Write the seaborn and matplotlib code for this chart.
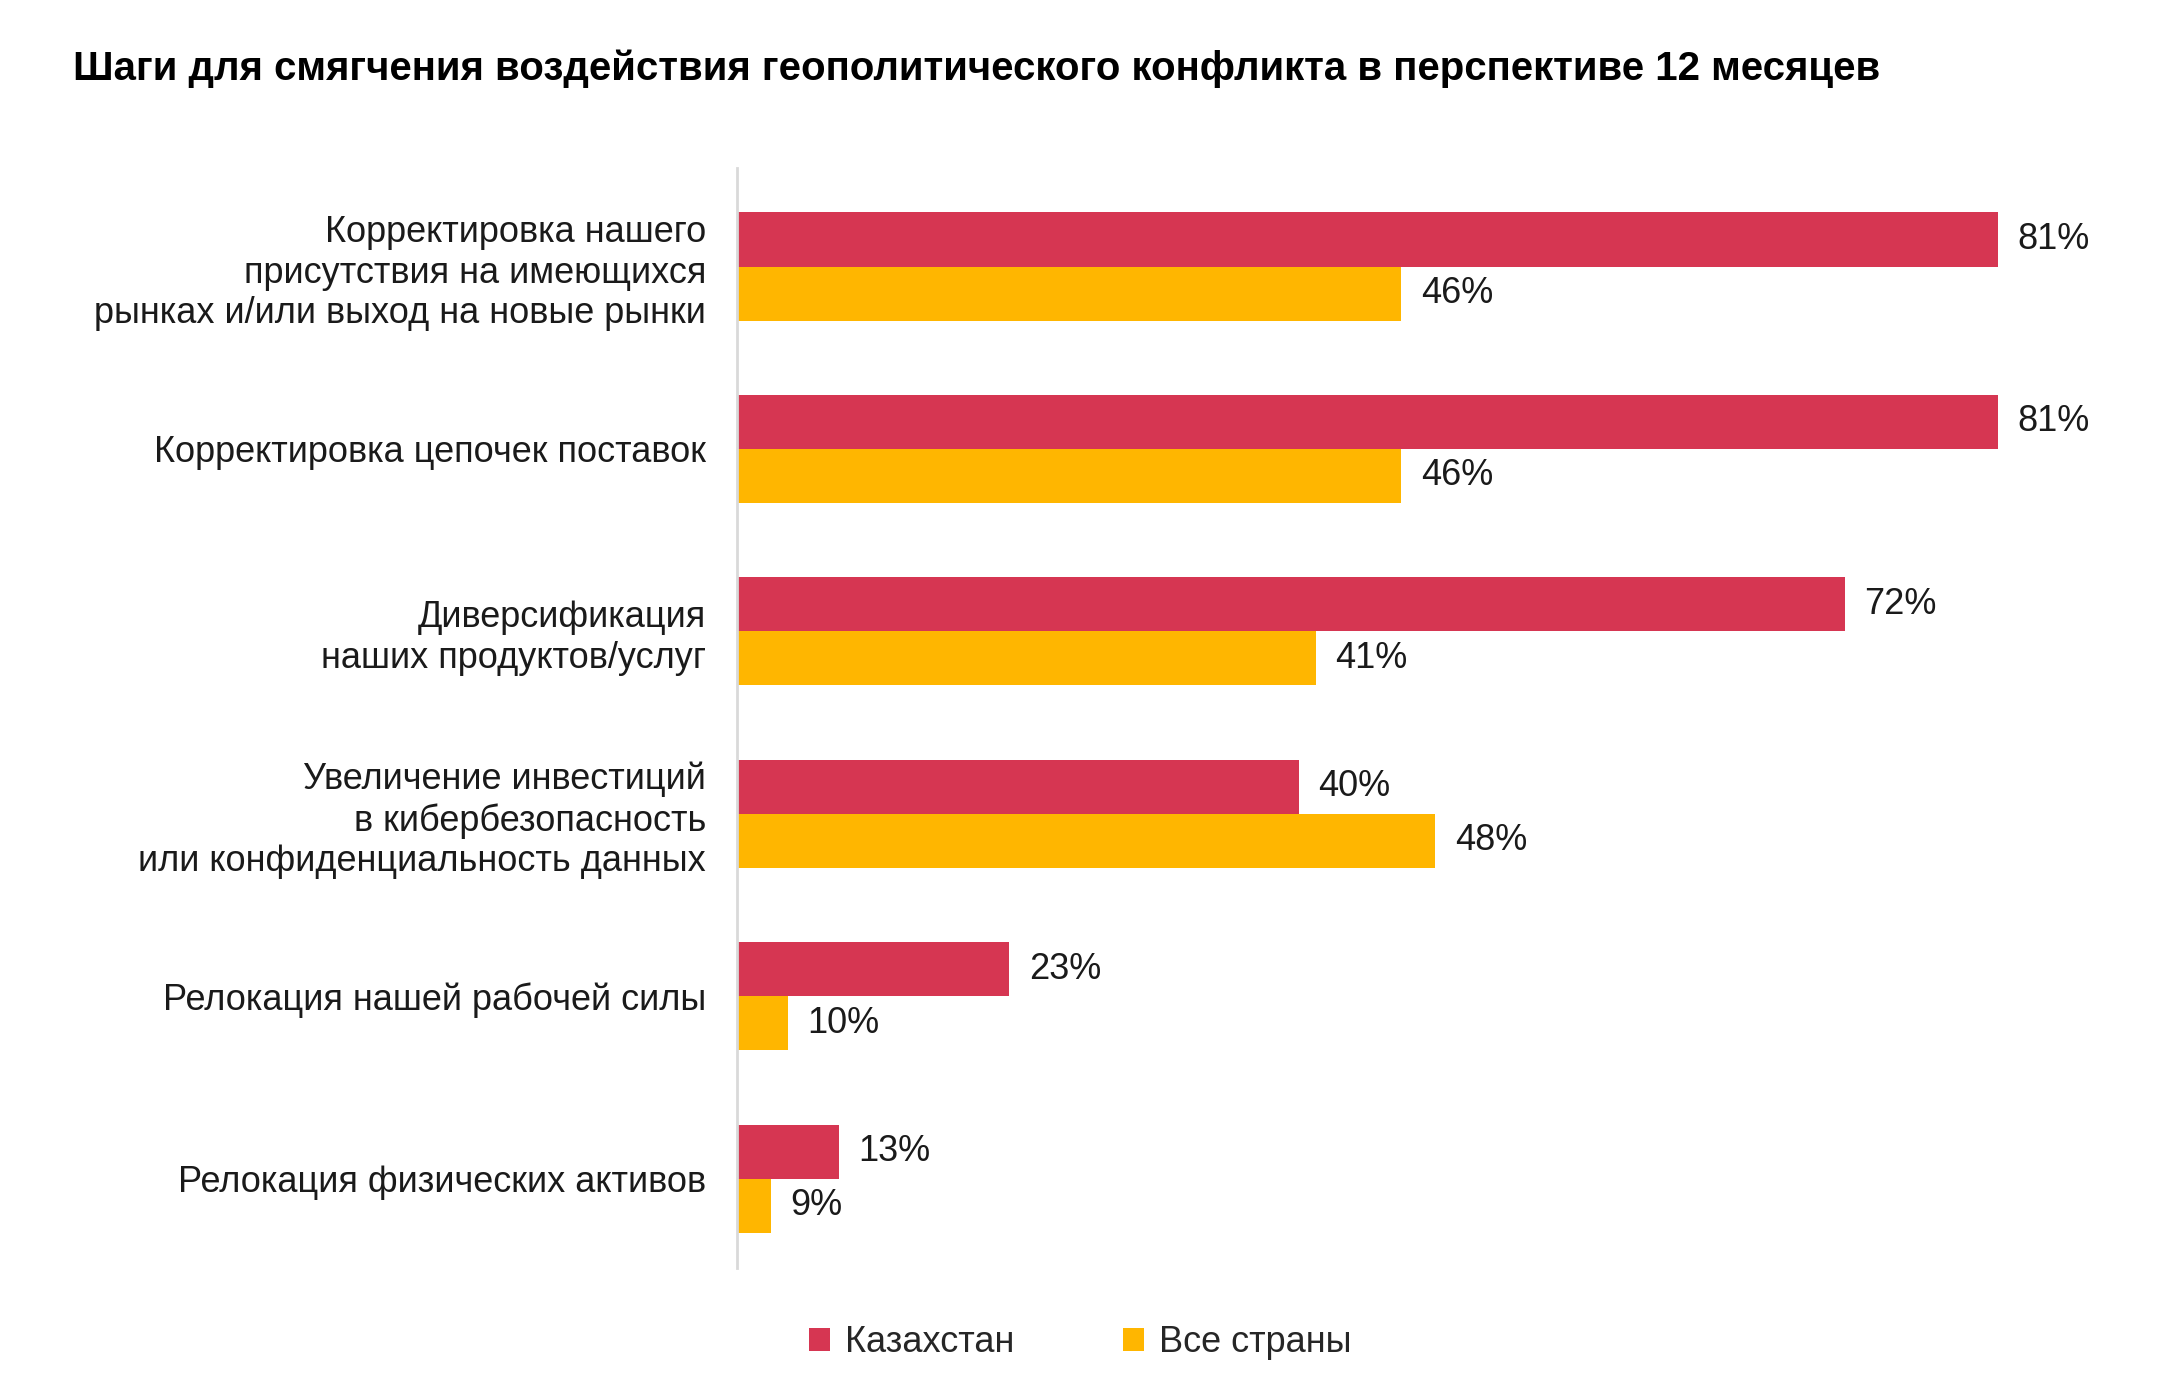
import numpy as np
import pandas as pd
import matplotlib
matplotlib.use('Agg')
import matplotlib.pyplot as plt
import seaborn as sns

# data
categories = [
    'Корректировка нашего\nприсутствия на имеющихся\nрынках и/или выход на новые рынки',
    'Корректировка цепочек поставок',
    'Диверсификация\nнаших продуктов/услуг',
    'Увеличение инвестиций\nв кибербезопасность\nили конфиденциальность данных',
    'Релокация нашей рабочей силы',
    'Релокация физических активов',
]
kazakhstan = [81, 81, 72, 40, 23, 13]
all_countries = [46, 46, 41, 48, 10, 9]
series_names = ['Казахстан', 'Все страны']
colors = ['#D63652', '#FFB600']

df = pd.DataFrame({
    'category': categories * 2,
    'value': kazakhstan + all_countries,
    'group': [series_names[0]] * len(categories) + [series_names[1]] * len(categories),
})

sns.set_style('white')
plt.rcParams['font.family'] = ['Liberation Sans', 'DejaVu Sans']

fig = plt.figure(figsize=(21.6, 14), dpi=100)
ax = fig.add_axes([0.341, 0.0943, 0.659, 0.7857])

sns.barplot(data=df, x='value', y='category', hue='group', palette=colors,
            width=0.593, orient='h', ax=ax, legend=True, saturation=1,
            linewidth=0)

for c in ax.containers:
    ax.bar_label(c, fmt='{:g}%', padding=14, fontsize=26, color='#1a1a1a')

ax.set_xlim(7, 90.5)
ax.set_ylim(5.49, -0.54)
ax.set_xlabel('')
ax.set_ylabel('')
ax.set_xticks([])
ax.tick_params(axis='y', length=0, pad=22, labelsize=26, labelcolor='#1a1a1a')
for s in ['top', 'right', 'bottom']:
    ax.spines[s].set_visible(False)
ax.spines['left'].set_color('#d9d9d9')
ax.spines['left'].set_linewidth(2)

handles, labels = ax.get_legend_handles_labels()
ax.get_legend().remove()
fig.legend(handles, labels, loc='center', bbox_to_anchor=(0.5, 0.041), ncol=2,
           frameon=False, fontsize=26, handlelength=0.6, handleheight=0.6,
           handletextpad=0.4, columnspacing=3.0)

fig.text(0.034, 0.951, 'Шаги для смягчения воздействия геополитического конфликта в перспективе 12 месяцев',
         fontsize=29, fontweight='bold', ha='left', va='center', color='#000000')

fig.savefig('out.png', dpi=100, facecolor='white')
